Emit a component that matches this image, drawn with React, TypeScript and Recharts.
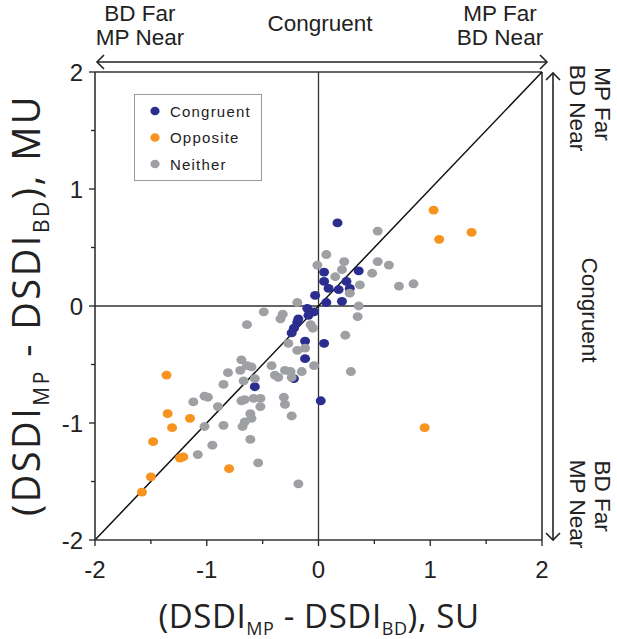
import React from 'react';
import { ScatterChart, Scatter, XAxis, YAxis, ReferenceLine, Legend, Customized } from 'recharts';

// ---- data ----
const seriesNames = ['Congruent', 'Opposite', 'Neither'];
const seriesColors = ['#2B2E8F', '#F7931E', '#9EA0A3'];

const congruentPoints: [number, number][] = [
  [0.17, 0.71], [0.05, 0.29], [0.36, 0.3], [0.05, 0.21], [0.25, 0.21], [0.09, 0.15],
  [0.18, 0.14], [0.28, 0.15], [-0.03, 0.09], [0.21, 0.04], [0.07, 0.03], [-0.1, -0.02],
  [-0.04, -0.05], [-0.18, -0.11], [-0.19, -0.14], [-0.09, -0.08], [-0.22, -0.19],
  [-0.24, -0.23], [-0.12, -0.3], [0.05, -0.32], [-0.12, -0.45], [-0.22, -0.62],
  [-0.57, -0.69], [0.02, -0.81],
];

const oppositePoints: [number, number][] = [
  [1.03, 0.82], [1.08, 0.57], [1.37, 0.63], [0.95, -1.04], [-1.36, -0.59], [-1.35, -0.92],
  [-1.15, -0.96], [-1.31, -1.04], [-1.48, -1.16], [-1.24, -1.3], [-1.21, -1.29],
  [-0.8, -1.39], [-1.5, -1.46], [-1.58, -1.59],
];

const neitherPoints: [number, number][] = [
  [0.53, 0.64], [0.07, 0.44], [-0.01, 0.35], [0.23, 0.38], [0.53, 0.38], [0.63, 0.35],
  [0.48, 0.28], [0.21, 0.31], [0.15, 0.25], [0.37, 0.18], [0.72, 0.17], [0.85, 0.19],
  [0.28, 0.11], [0.36, 0.0], [0.35, -0.09], [-0.19, 0.03], [-0.49, -0.05], [-0.32, -0.07],
  [-0.34, -0.11], [-0.64, -0.16], [-0.07, -0.16], [-0.05, -0.19], [0.24, -0.25],
  [-0.27, -0.32], [-0.19, -0.38], [-0.12, -0.36], [-0.04, -0.51], [0.29, -0.56],
  [-0.69, -0.46], [-0.64, -0.51], [-0.6, -0.52], [-0.7, -0.55], [-0.42, -0.51],
  [-0.81, -0.57], [-0.67, -0.64], [-0.57, -0.62], [-0.39, -0.59], [-0.3, -0.55],
  [-0.25, -0.56], [-0.15, -0.56], [-0.36, -0.61], [-0.24, -0.61], [-0.85, -0.67],
  [-1.12, -0.82], [-1.02, -0.77], [-0.99, -0.78], [-0.9, -0.86], [-0.69, -0.81],
  [-0.66, -0.8], [-0.58, -0.79], [-0.52, -0.79], [-0.31, -0.78], [-0.3, -0.84],
  [-0.61, -0.92], [-0.6, -0.96], [-0.52, -0.86], [-0.24, -0.94], [-1.02, -1.03],
  [-0.85, -1.02], [-0.68, -1.03], [-0.66, -0.99], [-0.61, -1.14], [-0.95, -1.19],
  [-1.08, -1.27], [-0.54, -1.34], [-0.18, -1.52],
];

const axisTicks = [-2, -1.5, -1, -0.5, 0, 0.5, 1, 1.5, 2];
const axisDomain: [number, number] = [-2, 2];

const toRows = (pts: [number, number][]) => pts.map(([x, y]) => ({ x, y }));

const TICK_FONT = "'Liberation Sans', Arial, sans-serif";
const TITLE_FONT = "'Open Sans', 'Noto Sans', sans-serif";
const INK = '#222';

const XTick = (p: any) => {
  const { x, y, payload } = p;
  const v = payload.value;
  const major = Number.isInteger(v);
  return (
    <g>
      <line x1={x} x2={x} y1={y} y2={y + (major ? 6 : 4)} stroke={INK} strokeWidth={1.3} />
      {major && (
        <text x={x} y={y + 38} textAnchor="middle" fontSize={24} fontFamily={TICK_FONT} fill={INK}>
          {v}
        </text>
      )}
    </g>
  );
};

const YTick = (p: any) => {
  const { x, y, payload } = p;
  const v = payload.value;
  const major = Number.isInteger(v);
  return (
    <g>
      <line x1={x} x2={x - (major ? 6 : 4)} y1={y} y2={y} stroke={INK} strokeWidth={1.3} />
      {major && (
        <text x={x - 12} y={y + 8.5} textAnchor="end" fontSize={24} fontFamily={TICK_FONT} fill={INK}>
          {v}
        </text>
      )}
    </g>
  );
};

const makeDot = (color: string) => (props: any) => (
  <ellipse cx={props.cx} cy={props.cy} rx={5} ry={4.4} fill={color} />
);

const LegendBox = () => (
  <div style={{ width: 128, height: 87, border: '1px solid #9a9a9a', background: '#fff', boxSizing: 'border-box' }}>
    <svg width={126} height={85}>
      {seriesNames.map((n, i) => (
        <g key={n}>
          <ellipse cx={20} cy={16 + i * 26.5} rx={4.6} ry={4.3} fill={seriesColors[i]} />
          <text x={35} y={21.5 + i * 26.5} fontSize={15} letterSpacing={1.2} fontFamily={TICK_FONT} fill={INK}>
            {n}
          </text>
        </g>
      ))}
    </svg>
  </div>
);

const Arrow = ({ x1, y1, x2, y2 }: { x1: number; y1: number; x2: number; y2: number }) => {
  const horiz = y1 === y2;
  const h = 7;
  return (
    <g stroke={INK} strokeWidth={1.6} fill="none">
      <line x1={x1} y1={y1} x2={x2} y2={y2} />
      {horiz ? (
        <>
          <polyline points={`${x1 + h},${y1 - h} ${x1},${y1} ${x1 + h},${y1 + h}`} />
          <polyline points={`${x2 - h},${y2 - h} ${x2},${y2} ${x2 - h},${y2 + h}`} />
        </>
      ) : (
        <>
          <polyline points={`${x1 - h},${y1 + h} ${x1},${y1} ${x1 + h},${y1 + h}`} />
          <polyline points={`${x2 - h},${y2 - h} ${x2},${y2} ${x2 + h},${y2 - h}`} />
        </>
      )}
    </g>
  );
};

const RotText = ({ x, y, children }: any) => (
  <text transform={`translate(${x},${y}) rotate(90)`} textAnchor="middle">{children}</text>
);

const Annotations = () => (
  <g>
    <g fontFamily={TICK_FONT} fontSize={22.5} fill={INK}>
      <text x={140} y={21} textAnchor="middle">BD Far</text>
      <text x={140} y={45} textAnchor="middle">MP Near</text>
      <text x={320} y={31} textAnchor="middle">Congruent</text>
      <text x={500} y={21} textAnchor="middle">MP Far</text>
      <text x={500} y={45} textAnchor="middle">BD Near</text>
      <RotText x={595} y={104}>MP Far</RotText>
      <RotText x={570} y={108}>BD Near</RotText>
      <RotText x={582} y={310}>Congruent</RotText>
      <RotText x={595} y={496}>BD Far</RotText>
      <RotText x={570} y={504}>MP Near</RotText>
    </g>
    <Arrow x1={97} y1={62} x2={547} y2={62} />
    <Arrow x1={553} y1={73} x2={553} y2={540} />
    <text x={319} y={628} textAnchor="middle" fontSize={33} letterSpacing={0.6} fontFamily={TITLE_FONT} fill={INK}>
      (DSDI<tspan fontSize={18} dy={7}>MP</tspan>
      <tspan dy={-7}> - DSDI</tspan>
      <tspan fontSize={18} dy={7}>BD</tspan>
      <tspan dy={-7}>), SU</tspan>
    </text>
    <text transform="translate(40,305) rotate(-90)" textAnchor="middle" fontSize={38} letterSpacing={2.5} fontFamily={TITLE_FONT} fill={INK}>
      (DSDI<tspan fontSize={21} dy={9}>MP</tspan>
      <tspan dy={-9}> - DSDI</tspan>
      <tspan fontSize={21} dy={9}>BD</tspan>
      <tspan dy={-9}>), MU</tspan>
    </text>
  </g>
);

export default function App() {
  const seriesData = [congruentPoints, oppositePoints, neitherPoints];
  return (
    <div style={{ position: 'absolute', left: 0, top: 0, background: '#fff' }}>
      <ScatterChart width={617} height={639} margin={{ top: 72, right: 75, bottom: 0, left: 0 }}>
        <XAxis
          type="number"
          dataKey="x"
          domain={axisDomain}
          ticks={axisTicks}
          interval={0}
          height={99}
          tickSize={0}
          tickMargin={0}
          tickLine={false}
          tick={<XTick />}
          axisLine={{ stroke: '#333', strokeWidth: 1.6 }}
          allowDataOverflow
        />
        <YAxis
          type="number"
          dataKey="y"
          domain={axisDomain}
          ticks={axisTicks}
          interval={0}
          width={95}
          tickSize={0}
          tickMargin={0}
          tickLine={false}
          tick={<YTick />}
          axisLine={{ stroke: '#333', strokeWidth: 1.6 }}
          allowDataOverflow
        />
        <ReferenceLine y={2} stroke="#333" strokeWidth={1.6} />
        <ReferenceLine x={2} stroke="#333" strokeWidth={1.6} />
        <ReferenceLine y={0} stroke="#333" strokeWidth={1.3} />
        <ReferenceLine x={0} stroke="#333" strokeWidth={1.3} />
        {seriesData.map((pts, i) => (
          <Scatter
            key={seriesNames[i]}
            name={seriesNames[i]}
            data={toRows(pts)}
            fill={seriesColors[i]}
            shape={makeDot(seriesColors[i])}
            isAnimationActive={false}
          />
        ))}
        <ReferenceLine
          segment={[{ x: -2, y: -2 }, { x: 2, y: 2 }]}
          stroke="#111"
          strokeWidth={1.5}
        />
        <Legend
          layout="vertical"
          align="center"
          verticalAlign="middle"
          wrapperStyle={{ position: 'absolute', left: 134, top: 94, width: 128, height: 87 }}
          content={() => <LegendBox />}
        />
        <Customized component={Annotations} />
      </ScatterChart>
    </div>
  );
}
